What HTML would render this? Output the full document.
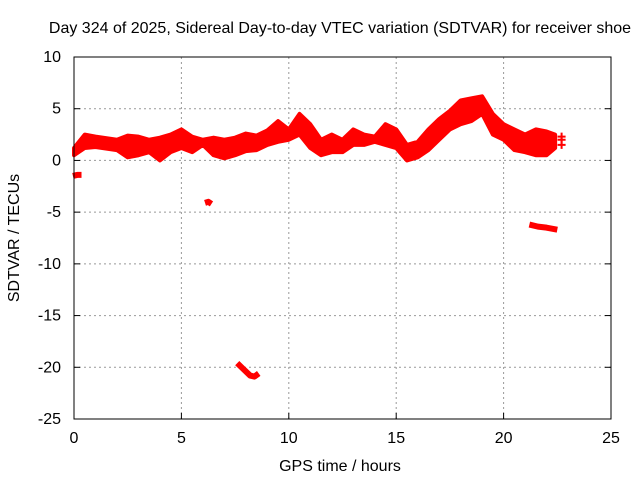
<!DOCTYPE html>
<html><head><meta charset="utf-8"><style>
body{margin:0;background:#fff;}
svg{display:block;font-family:"Liberation Sans",sans-serif;}
</style></head><body>
<svg id="chart" width="640" height="480">
<text x="340" y="33" text-anchor="middle" font-size="16">Day 324 of 2025, Sidereal Day-to-day VTEC variation (SDTVAR) for receiver shoe</text>
<g id="grid"></g>
<g id="marks"></g>
<rect x="74" y="57" width="537" height="362" fill="none" stroke="#000" stroke-width="1"/>
<g id="ticks"></g>
<text x="340" y="471" text-anchor="middle" font-size="16">GPS time / hours</text>
<text x="19" y="238" text-anchor="middle" font-size="16" transform="rotate(-90 19 238)">SDTVAR / TECUs</text>
</svg>
<script>
const xTicks=[0,5,10,15,20,25];
const yTicks=[10,5,0,-5,-10,-15,-20,-25];
const bandHours=[0,0.5,1,2,2.5,3,3.5,4,4.5,5,5.5,6,6.5,7,7.5,8,8.5,9,9.5,10,10.5,11,11.5,12,12.5,13,13.5,14,14.5,15,15.5,16,16.5,17,17.5,18,18.5,19,19.5,20,20.5,21,21.5,22,22.4];
const bandHigh=[1.2,2.5,2.3,2.0,2.4,2.3,2.0,2.2,2.5,3.0,2.3,2.0,2.2,2.0,2.2,2.6,2.4,2.9,3.8,3.0,4.5,3.5,2.0,2.5,2.0,3.0,2.5,2.3,3.5,3.0,1.5,1.8,3.0,4.0,4.8,5.8,6.0,6.2,4.5,3.5,3.0,2.5,3.0,2.8,2.5];
const bandLow=[0.5,1.2,1.3,1.0,0.3,0.5,0.8,0.0,0.8,1.2,0.8,1.5,0.5,0.2,0.5,0.9,1.0,1.5,1.8,2.0,2.5,1.2,0.5,0.8,0.8,1.5,1.5,1.8,1.5,1.2,0.0,0.3,1.0,2.0,3.0,3.5,3.8,4.5,2.5,2.0,1.0,0.8,0.5,0.5,1.2];
const segHours=[[-0.05,0.15,0.35],[6.1,6.25,6.4],[7.6,7.9,8.2,8.4,8.6],[21.2,21.6,22.0,22.5]];
const segValues=[[-1.5,-1.4,-1.4],[-4.1,-4.0,-4.2],[-19.6,-20.2,-20.8,-20.9,-20.6],[-6.2,-6.4,-6.5,-6.7]];
const extraHours=[22.7,22.7,22.7];
const extraValues=[1.5,2.0,2.3];

const X=h=>74+h*(537/25), Y=v=>57+(10-v)*(362/35);
const NS='http://www.w3.org/2000/svg';
function mk(tag,attrs,parent){const e=document.createElementNS(NS,tag);for(const k in attrs)e.setAttribute(k,attrs[k]);parent.appendChild(e);return e;}
const grid=document.getElementById('grid'),ticks=document.getElementById('ticks'),marks=document.getElementById('marks');
xTicks.forEach(t=>{
 if(t>0&&t<25){const l=mk('line',{x1:X(t),x2:X(t),y1:57,y2:419,stroke:'#999','stroke-dasharray':'2,3'},grid);
 
 }
 const tk=mk('line',{x1:X(t),x2:X(t),y1:419,y2:413,stroke:'#000'},ticks);
 
 
 const tx=mk('text',{x:X(t),y:443,'text-anchor':'middle','font-size':16},ticks);tx.textContent=t;
 
 
});
yTicks.forEach(t=>{
 if(t<10&&t>-25){const l=mk('line',{x1:74,x2:611,y1:Y(t),y2:Y(t),stroke:'#999','stroke-dasharray':'2,3'},grid);
 
 }
 const tk=mk('line',{x1:74,x2:80,y1:Y(t),y2:Y(t),stroke:'#000'},ticks);
 
 
 const tk2=mk('line',{x1:605,x2:611,y1:Y(t),y2:Y(t),stroke:'#000'},ticks);
 
 
 const tx=mk('text',{x:61,y:Y(t)+5,'text-anchor':'end','font-size':16},ticks);tx.textContent=t;
 
 
});
let pts=bandHours.map((h,i)=>X(h)+','+Y(bandHigh[i]));
for(let i=bandHours.length-1;i>=0;i--)pts.push(X(bandHours[i])+','+Y(bandLow[i]));
const band=mk('polygon',{points:pts.join(' '),fill:'#f00',stroke:'#f00','stroke-width':4,'stroke-linejoin':'round'},marks);


segHours.forEach((hs,i)=>{
 const p=mk('polyline',{points:hs.map((h,j)=>X(h)+','+Y(segValues[i][j])).join(' '),fill:'none',stroke:'#f00','stroke-width':6,'stroke-linejoin':'round'},marks);
 
 
});
extraHours.forEach((h,i)=>{
 const x=X(h),y=Y(extraValues[i]);
 const p=mk('path',{d:`M${x-4},${y}H${x+4}M${x},${y-4}V${y+4}`,stroke:'#f00','stroke-width':2},marks);
 
 
});
</script>
</body></html>
